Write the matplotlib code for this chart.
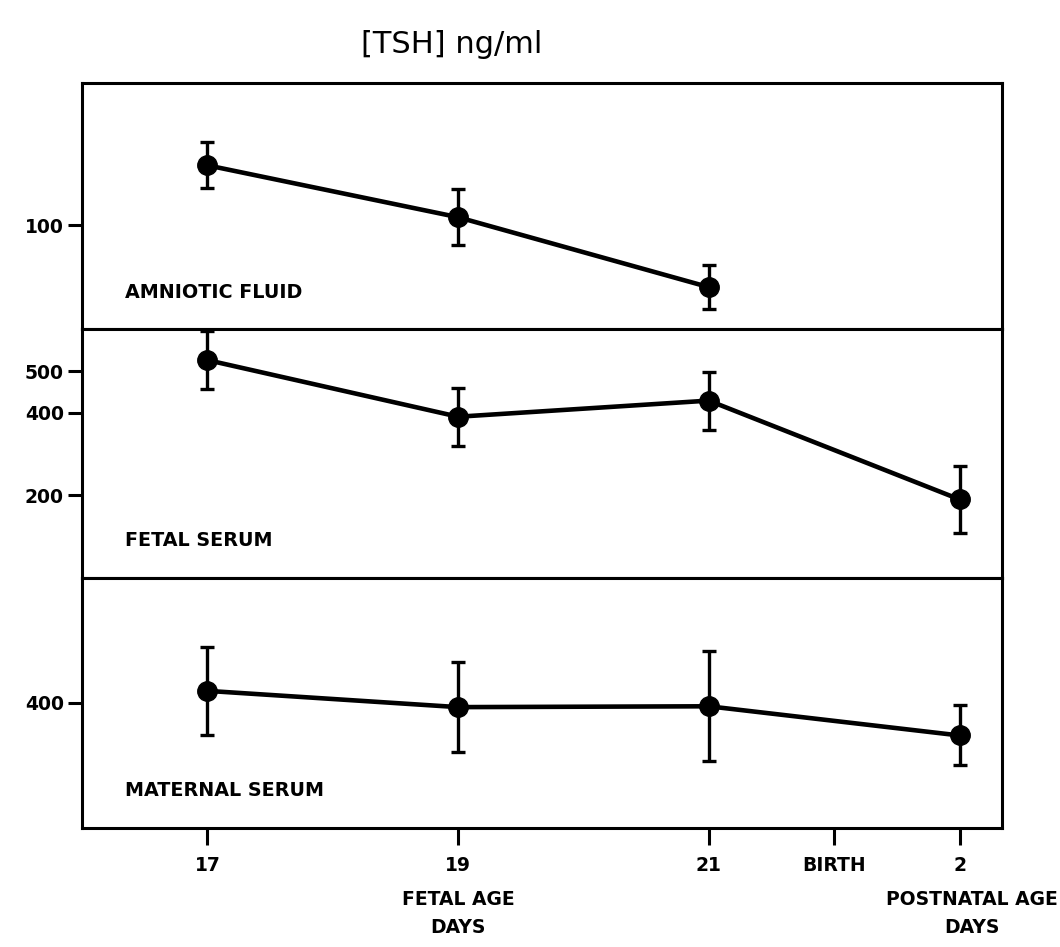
import matplotlib.pyplot as plt

# x positions on a day-like scale; BIRTH sits half way between 21 and postnatal day 2
tick_pos = [17, 19, 21, 22, 23]
tick_labels = ['17', '19', '21', 'BIRTH', '2']

# amniotic fluid (only fetal days)
amn_x = [17, 19, 21]
amn_y = [130, 104, 69]
amn_err = [11.5, 14, 11]

# fetal serum
fet_x = [17, 19, 21, 23]
fet_y = [527, 390, 429, 190]
fet_err = [71, 70, 70, 82]

# maternal serum
mat_x = [17, 19, 21, 23]
mat_y = [429, 390, 392, 322]
mat_err = [105, 108, 132, 72]

plt.rcParams['font.family'] = 'DejaVu Sans'

fig = plt.figure(figsize=(10.6, 9.47), dpi=100)
left, width = 0.0774, 0.868
ax1 = fig.add_axes([left, 0.6525, width, 0.2594])
ax2 = fig.add_axes([left, 0.3897, width, 0.2628])
ax3 = fig.add_axes([left, 0.1257, width, 0.2640])

panels = [
    (ax1, amn_x, amn_y, amn_err, (48, 171), [100], 'AMNIOTIC FLUID'),
    (ax2, fet_x, fet_y, fet_err, (0, 602), [200, 400, 500], 'FETAL SERUM'),
    (ax3, mat_x, mat_y, mat_err, (100, 700), [400], 'MATERNAL SERUM'),
]

for ax, xs, ys, es, ylim, yt, name in panels:
    ax.errorbar(xs, ys, yerr=es, color='black', lw=3.3, marker='o', ms=14,
                elinewidth=2.4, capsize=5, capthick=2.4, clip_on=False, zorder=3)
    ax.set_xlim(16.0, 23.34)
    ax.set_ylim(*ylim)
    ax.set_yticks(yt)
    ax.set_yticklabels([str(v) for v in yt], fontsize=13.5, fontweight='bold')
    ax.tick_params(axis='y', direction='out', length=10, width=2.2, pad=3)
    ax.tick_params(axis='x', bottom=False, labelbottom=False)
    for s in ax.spines.values():
        s.set_linewidth(2.2)
    ax.text(0.047, 0.15, name, transform=ax.transAxes, fontsize=13.8,
            fontweight='bold', va='center', ha='left')

ax3.set_xticks(tick_pos)
ax3.set_xticklabels(tick_labels, fontsize=13.5, fontweight='bold')
ax3.tick_params(axis='x', bottom=True, labelbottom=True, direction='out',
                length=12, width=2.2, pad=8)

xt = ax3.get_xaxis_transform()
ax3.text(19, -0.25, 'FETAL AGE\nDAYS', transform=xt, ha='center', va='top',
         fontsize=13.5, fontweight='bold', linespacing=1.6)
ax3.text(23.1, -0.25, 'POSTNATAL AGE\nDAYS', transform=xt, ha='center', va='top',
         fontsize=13.5, fontweight='bold', linespacing=1.6)

fig.text(0.426, 0.953, '[TSH] ng/ml', fontsize=22, ha='center', va='center')

fig.savefig('out.png', dpi=100, facecolor='white')
